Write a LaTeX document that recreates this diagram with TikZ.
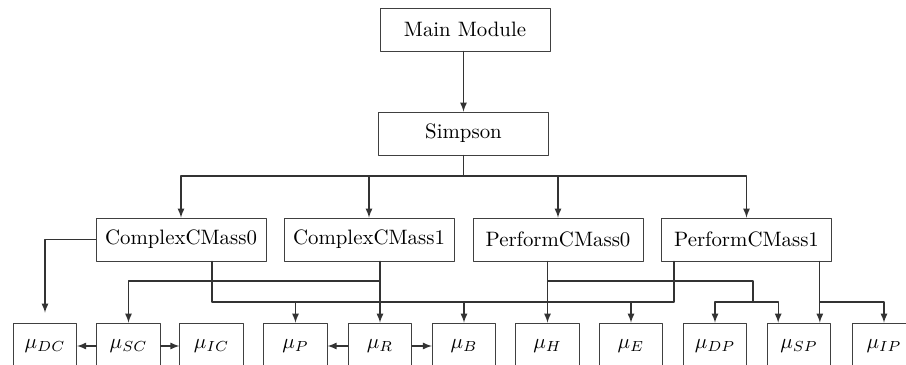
\documentclass[tikz,border=0pt]{standalone}
\usepackage{amsmath,amssymb}
\usetikzlibrary{positioning,arrows}
\tikzset{
  >=latex,
  modbox/.style ={draw=black!75, minimum width=81.6pt, minimum height=20.6pt, inner sep=2pt},
  varbox/.style ={draw=black!75, minimum width=30.4pt, minimum height=22pt, inner sep=1pt},
  link/.style   ={black!80, line width=0.5pt},
}

\begin{document}
\begin{tikzpicture}[x=0.48pt, y=-0.48pt, line cap=round, line join=round]
  %--- page size of the reference, the bottom row runs off it ---
  \clip (0,0) rectangle (906,365);

  %--- top of the call tree ---
  \node[modbox] (main) at (465,29.5) {Main Module};
  \node[modbox] (simp) at (463.5,133.5) {Simpson};

  %--- second level ---
  \node[modbox] (cc0) at (181,239.5) {ComplexCMass0};
  \node[modbox] (cc1) at (369,239.5) {ComplexCMass1};
  \node[modbox] (pc0) at (558,239.5) {PerformCMass0};
  \node[modbox] (pc1) at (746.5,239.5) {PerformCMass1};

  %--- the mass terms ---
  \node[varbox] (dc) at (45,346)    {$\mu_{DC}$};
  \node[varbox] (sc) at (128.5,346) {$\mu_{SC}$};
  \node[varbox] (ic) at (211.5,346) {$\mu_{IC}$};
  \node[varbox] (p)  at (295.5,346) {$\mu_{P}$};
  \node[varbox] (r)  at (380,346)   {$\mu_{R}$};
  \node[varbox] (b)  at (464,346)   {$\mu_{B}$};
  \node[varbox] (h)  at (547.5,346) {$\mu_{H}$};
  \node[varbox] (e)  at (631,346)   {$\mu_{E}$};
  \node[varbox] (dp) at (715,346)   {$\mu_{DP}$};
  \node[varbox] (sp) at (799,346)   {$\mu_{SP}$};
  \node[varbox] (ip) at (884,346)   {$\mu_{IP}$};

  %--- junction points of the wiring ---
  \coordinate (bus) at (463.5,176);
  \coordinate (jA)  at (212,302);   % under ComplexCMass0
  \coordinate (jB)  at (674,302);   % under PerformCMass1
  \coordinate (jC)  at (380,281);   % branch of ComplexCMass1
  \coordinate (jD)  at (753,281);   % branch of PerformCMass0
  \coordinate (jE)  at (753,302);
  \coordinate (spL) at ([xshift=-10pt]sp.north);
  \coordinate (spR) at ([xshift=10pt]sp.north);
  \coordinate (jF)  at (spR |- jA);

  %--- Main Module -> Simpson -> CMass routines ---
  \draw[link, ->] (main.south -| simp) -- (simp);
  \draw[link] (simp) -- (bus);
  \draw[link, ->] (bus) -| (cc0);
  \draw[link, ->] (bus) -| (cc1);
  \draw[link, ->] (bus) -| (pc0);
  \draw[link, ->] (bus) -| (pc1);

  % ComplexCMass0
  \draw[link, ->, shorten >=4.8pt] (cc0.west) -| (dc);
  \draw[link] (cc0.south -| jA) -- (jA) -- (jB) -- (pc1.south -| jB);
  \draw[link, ->] (jA -| p) -- (p);
  \draw[link, ->] (jA -| b) -- (b);
  \draw[link, ->] (jA -| e) -- (e);

  % ComplexCMass1
  \draw[link, ->] (cc1.south -| r) -- (r);
  \draw[link, ->] (jC) -| (sc);

  % PerformCMass0
  \draw[link, ->] (pc0.south -| h) -- (h);
  \draw[link] (h |- jD) -- (jD) -- (jE);
  \draw[link, ->] (jE) -| (dp);
  \draw[link, ->] (jE) -| (spL);

  % PerformCMass1
  \draw[link, ->] (pc1.south -| spR) -- (spR);
  \draw[link, ->] (jF) -| (ip);

  %--- sideways links in the bottom row ---
  \draw[link, ->] (sc.west) -- (dc.east);
  \draw[link, ->] (sc.east) -- (ic.west);
  \draw[link, ->] (r.west) -- (p.east);
  \draw[link, ->] (r.east) -- (b.west);
\end{tikzpicture}
\end{document}
